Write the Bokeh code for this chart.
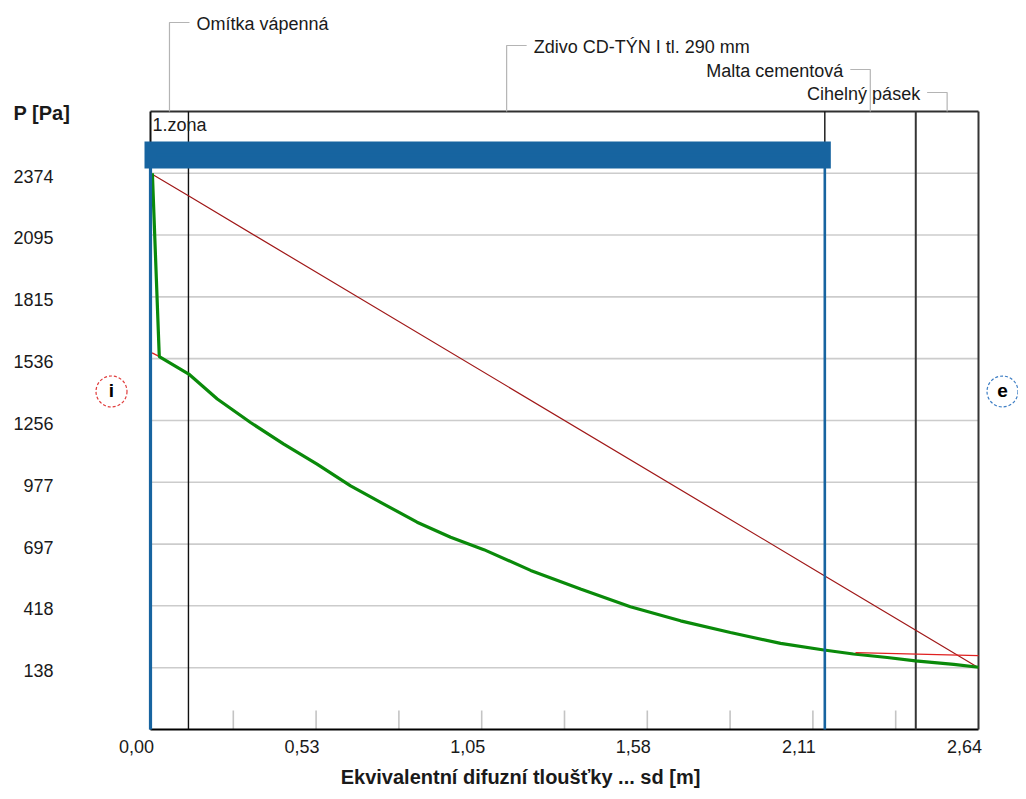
import numpy as np
from bokeh.plotting import figure
from bokeh.models import LinearAxis, Range1d, FixedTicker
from bokeh.core.properties import value
from bokeh.embed import file_html
from bokeh.resources import INLINE

# ---------------- data ----------------
layer_names = ["Omítka vápenná", "Zdivo CD-TÝN I tl. 290 mm", "Malta cementová", "Cihelný pásek"]
layer_bounds = [0.0, 0.121, 2.15, 2.44, 2.64]          # cumulative sd [m]
zone_bounds = [0.0, 2.15]                              # condensation zone
zone_label = "1.zona"

x_ticks = [0.0, 0.528, 1.056, 1.584, 2.112, 2.64]
x_tick_labels = ["0,00", "0,53", "1,05", "1,58", "2,11", "2,64"]
x_minor_ticks = [0.264, 0.528, 0.792, 1.056, 1.32, 1.584, 1.848, 2.112, 2.376]
y_ticks = [138, 418, 697, 977, 1256, 1536, 1815, 2095, 2374]
y_tick_labels = ["138", "418", "697", "977", "1256", "1536", "1815", "2095", "2374"]
y_lo, y_hi = -141.5, 2653.5

# partial pressure p (dark red)
p_x = [0.0, 0.121, 2.15, 2.44, 2.64]
p_y = [2374, 2272, 553, 307, 138]

# saturation pressure psat (green)
psat_x = [0.006, 0.028, 0.122, 0.213, 0.319, 0.425, 0.531, 0.638, 0.744, 0.850, 0.957,
          1.063, 1.212, 1.371, 1.530, 1.690, 1.849, 2.009, 2.147, 2.241, 2.349, 2.439,
          2.561, 2.64]
psat_y = [2374, 1545, 1466, 1353, 1247, 1149, 1059, 960, 878, 796, 728,
          672, 578, 494, 414, 350, 297, 248, 218, 200, 184, 169,
          153, 140]

# corrected partial pressure outside the zone (bright red)
pc_in_x, pc_in_y = [0.005, 0.024], [1562, 1548]
pc_out_x, pc_out_y = [2.248, 2.64], [206, 193]

x_title = "Ekvivalentní difuzní tloušťky ... sd [m]"
y_title = "P [Pa]"

# ---------------- layout (pixels of the picture) ----------------
W, H = 1018, 791
L, R, T, B = 150, 978, 111, 729          # plot box
PX = (R - L) / (layer_bounds[-1] - layer_bounds[0])
PY = (B - T) / (y_hi - y_lo)

def xd(px):
    return layer_bounds[0] + (px - L) / PX

def yd(py):
    return y_lo + (B - py) / PY

FONT = "Liberation Sans"
TXT = "#1a1a1a"
BLUE = "#1764a0"
GREEN = "#0a8a0a"
DARKRED = "#a01818"
RED = "#e02020"
GRID = "#cccccc"

p = figure(width=W, height=H,
           x_range=Range1d(xd(0), xd(W)), y_range=Range1d(yd(H), yd(0)),
           output_backend="svg", toolbar_location=None,
           x_axis_location=None, y_axis_location=None, min_border=0)
p.outline_line_color = None
p.grid.visible = False
p.background_fill_color = "white"
p.border_fill_color = "white"

# label ranges: x labels sit 14 px left of their tick, y labels 3 px below
p.extra_x_ranges = {"lab": Range1d(xd(14), xd(W + 14))}
p.extra_y_ranges = {"ylab": Range1d(yd(H - 3), yd(-3))}

common = dict(axis_line_color=None, major_tick_line_color=None, minor_tick_line_color=None,
              major_tick_in=0, major_tick_out=0, minor_tick_in=0, minor_tick_out=0,
              major_label_text_font=FONT, major_label_text_font_size="18px",
              major_label_text_color=TXT)
xaxis = LinearAxis(x_range_name="lab", ticker=FixedTicker(ticks=x_ticks),
                   major_label_overrides=dict(zip(x_ticks, x_tick_labels)),
                   fixed_location=y_lo, major_label_standoff=10, **common)
p.add_layout(xaxis, "below")
yaxis = LinearAxis(y_range_name="ylab", ticker=FixedTicker(ticks=y_ticks),
                   major_label_overrides=dict(zip(y_ticks, y_tick_labels)),
                   fixed_location=layer_bounds[0], major_label_standoff=L - 53, **common)
p.add_layout(yaxis, "left")

x0, x1 = layer_bounds[0], layer_bounds[-1]

# grid lines
p.segment(x0=[x0] * len(y_ticks), x1=[x1] * len(y_ticks), y0=y_ticks, y1=y_ticks,
          line_color=GRID, line_width=1.6)
# gray ticks inside the plot
n = len(x_minor_ticks)
p.segment(x0=x_minor_ticks, x1=x_minor_ticks, y0=[y_lo] * n, y1=[yd(B - 19)] * n,
          line_color="#c4c4c4", line_width=1.6)
# bottom axis line and top border
p.segment(x0=[x0], x1=[x1], y0=[y_lo], y1=[y_lo], line_color="#000000", line_width=2.2)
p.segment(x0=[x0], x1=[x1], y0=[y_hi], y1=[y_hi], line_color="#303030", line_width=2)
# layer boundaries
nb = len(layer_bounds)
p.segment(x0=layer_bounds, x1=layer_bounds, y0=[y_lo] * nb, y1=[y_hi] * nb,
          line_color=["#101010", "#101010", "#101010", "#353535", "#353535"],
          line_width=[2, 1.4, 1.4, 2, 2])

# curves
p.line(p_x, p_y, line_color=DARKRED, line_width=1.2)
p.line(psat_x, psat_y, line_color=GREEN, line_width=3.2)
p.line(pc_in_x, pc_in_y, line_color=RED, line_width=1.3)
p.line(pc_out_x, pc_out_y, line_color=RED, line_width=1.3)

# condensation zone: boundaries and bar
bar_top, bar_bot = yd(147), yd(162)
p.segment(x0=zone_bounds, x1=zone_bounds, y0=[y_lo] * 2, y1=[bar_bot] * 2,
          line_color=BLUE, line_width=[3.2, 2.6])
p.quad(left=[zone_bounds[0]], right=[zone_bounds[1]], bottom=[bar_bot], top=[bar_top],
       fill_color=BLUE, line_color=BLUE, line_width=12, line_join="miter")
p.text(x=[zone_bounds[0]], y=[yd(124)], text=[zone_label], x_offset=2,
       text_baseline="middle", text_align="left", text_color=TXT,
       text_font=value(FONT), text_font_size="18px")

# layer names with leader lines
levels = [22, 45, 69, 92]
for i, name in enumerate(layer_names):
    mid = (layer_bounds[i] + layer_bounds[i + 1]) / 2
    sgn = 1 if i < 2 else -1
    lev = yd(levels[i])
    xe = mid + sgn * 20 / PX
    p.line([xe, mid, mid], [lev, lev, y_hi], line_color="#b4b4b4", line_width=1.2)
    p.text(x=[mid + sgn * 27 / PX], y=[yd(levels[i] + 1)], text=[name],
           text_align="left" if sgn > 0 else "right", text_baseline="middle",
           text_font=value(FONT), text_font_size="18px", text_color=TXT)

# axis titles
p.text(x=[xd(13)], y=[yd(112)], text=[y_title], text_align="left",
       text_baseline="middle", text_font=value(FONT), text_font_size="20px",
       text_font_style="bold", text_color=TXT)
p.text(x=[xd(520)], y=[yd(776)], text=[x_title], text_align="center",
       text_baseline="alphabetic", text_font=value(FONT), text_font_size="20px",
       text_font_style="bold", text_color=TXT)

# interior / exterior markers
mk_x = [xd(111), xd(1002)]
mk_y = [yd(391), yd(391)]
p.scatter(x=mk_x, y=mk_y, marker="circle", size=31, fill_color=None,
          line_color=["#e03c3c", "#3c7dc4"], line_width=1.2, line_dash="3 2")
p.text(x=mk_x, y=[yd(390)] * 2, text=["i", "e"], text_align="center",
       text_baseline="middle", text_font=value(FONT), text_font_size="19px",
       text_font_style="bold", text_color="#000000")

open("out.html", "w").write(file_html(p, INLINE))
